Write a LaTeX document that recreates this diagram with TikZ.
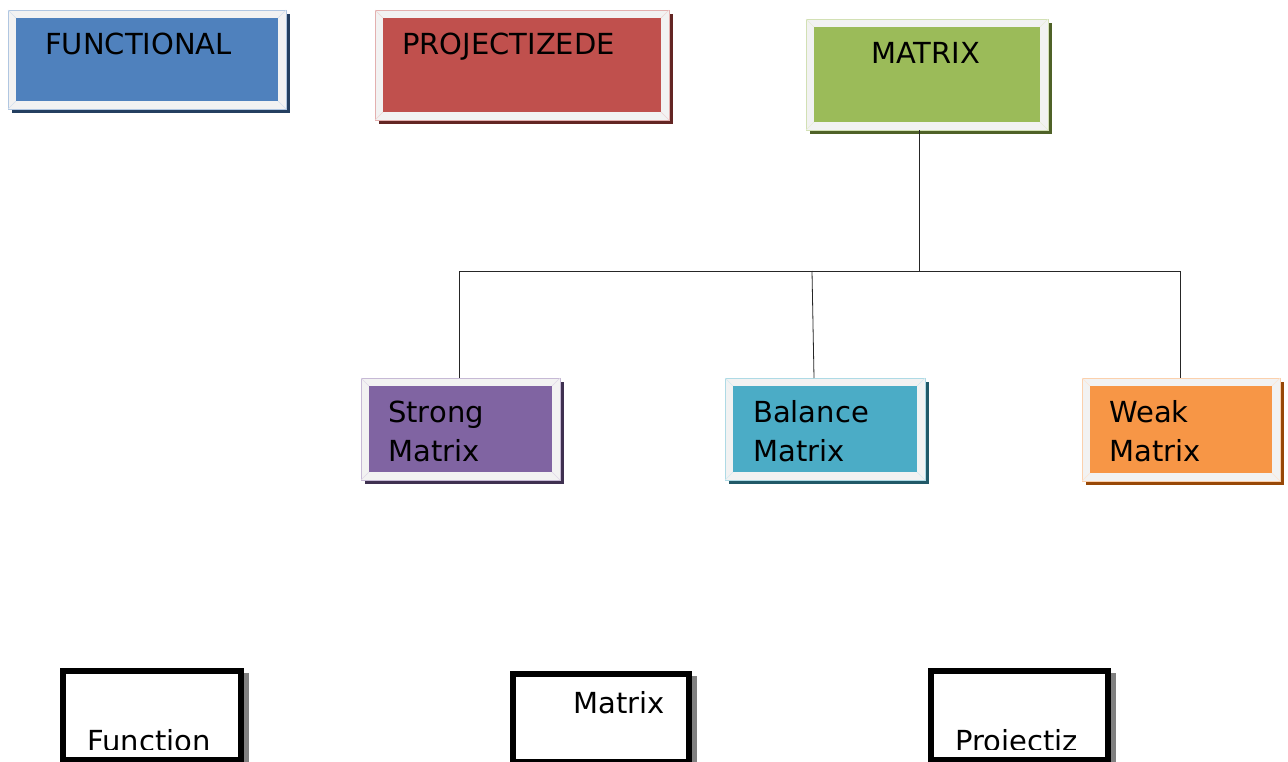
\documentclass[tikz,border=0pt]{standalone}
\usepackage{fontspec}
\setmainfont{DejaVu Sans}
\usetikzlibrary{fit}
\definecolor{framegray}{HTML}{F2F2F2}
\definecolor{cblue}{HTML}{4F81BD}\definecolor{sblue}{HTML}{243F60}
\definecolor{cred}{HTML}{C0504D}\definecolor{sred}{HTML}{632523}
\definecolor{cgreen}{HTML}{9BBB59}\definecolor{sgreen}{HTML}{4F6228}
\definecolor{cpurple}{HTML}{8064A2}\definecolor{spurple}{HTML}{3F3151}
\definecolor{caqua}{HTML}{4BACC6}\definecolor{saqua}{HTML}{215968}
\definecolor{corange}{HTML}{F79646}\definecolor{sorange}{HTML}{984807}
\tikzset{
  lbl/.style={font=\fontsize{29}{34}\selectfont, inner sep=0, anchor=base west, text=black},
  conn/.style={line width=0.8pt, draw=black!85},
}
% name, x1, y1, x2, y2, colour, shadow colour
\newcommand\bevbox[7]{%
  \fill[#7] (#2+4,#3+4) rectangle (#4+4,#5+4);
  \node[fit={(#2,#3) (#4,#5)}, inner sep=0, fill=framegray, draw=#6!45, line width=0.6pt] (#1) {};
  \draw[#6!25, line width=0.5pt] (#2,#3) -- (#2+8,#3+8) (#4,#3) -- (#4-8,#3+8)
       (#2,#5) -- (#2+8,#5-8) (#4,#5) -- (#4-8,#5-8);
  \fill[#6] (#2+8,#3+8) rectangle (#4-8,#5-8);
}
% name, x1, y1, x2, y2
\newcommand\blkbox[5]{%
  \fill[black!50] (#4,#3+5) rectangle (#4+5,#5+5);
  \node[fit={(#2+3,#3+3) (#4-3,#5-3)}, inner sep=0, fill=white, draw=black, line width=6pt] (#1) {};
}
\begin{document}
\begin{tikzpicture}[x=1pt,y=-1pt]
\useasboundingbox (0,0) rectangle (1288,762);
\clip (0,0) rectangle (1288,762);
\fill[white] (0,0) rectangle (1288,762);

\bevbox{functional}{8}{10}{286}{109}{cblue}{sblue}
\node[lbl] (tfunctional) at (45,55) {FUNCTIONAL};

\bevbox{projectized}{375}{10}{669}{120}{cred}{sred}
\node[lbl] (tprojectized) at (402,55) {PROJECTIZEDE};

\bevbox{matrix}{806}{19}{1048}{130}{cgreen}{sgreen}
\node[lbl] (tmatrix) at (871,64) {MATRIX};

\bevbox{strong}{361}{378}{560}{480}{cpurple}{spurple}
\node[lbl] (tstrong1) at (388,422) {Strong};
\node[lbl] (tstrong2) at (388,461) {Matrix};

\bevbox{balance}{725}{378}{925}{480}{caqua}{saqua}
\node[lbl] (tbalance1) at (753,422) {Balance};
\node[lbl] (tbalance2) at (753,461) {Matrix};

\bevbox{weak}{1082}{378}{1280}{481}{corange}{sorange}
\node[lbl] (tweak1) at (1109,422) {Weak};
\node[lbl] (tweak2) at (1109,461) {Matrix};

% connectors
\coordinate (mx) at (919,271);
\coordinate (sx) at (459,271);
\coordinate (bx) at (812,271);
\coordinate (wx) at (1180,271);
\coordinate (bend) at (814,378);
\draw[conn] (matrix.south -| mx) -- (mx);
\draw[conn] (sx) -- (wx);
\draw[conn] (sx) -- (strong.north -| sx);
\draw[conn] (bx) -- (bend);
\draw[conn] (wx) -- (weak.north -| wx);

% bottom boxes
\blkbox{bfunction}{60}{668}{244}{763}
\blkbox{bmatrix}{510}{671}{692}{765}
\blkbox{bproj}{928}{668}{1111}{763}
\begin{scope}
\clip (60,668) rectangle (1120,749.5);
\node[lbl] (tbfunction) at (87,751) {Function};
\node[lbl] (tbproj) at (955,751) {Projectiz};
\end{scope}
\node[lbl] (tbmatrix) at (573,713) {Matrix};
\end{tikzpicture}
\end{document}
